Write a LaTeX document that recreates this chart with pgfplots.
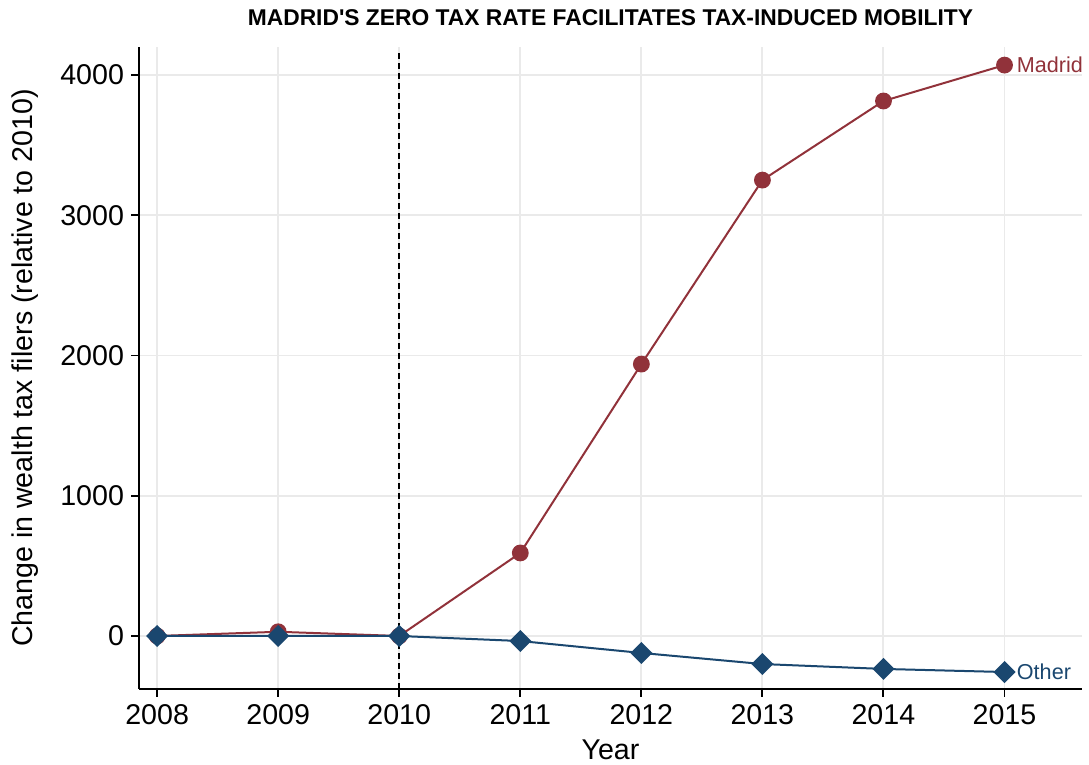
\documentclass[border=0pt]{standalone}
\usepackage{pgfplots}
\pgfplotsset{compat=1.18}
\usepackage{fontspec}
\setmainfont{Liberation Sans}
\definecolor{madrid}{RGB}{145,50,58}
\definecolor{other}{RGB}{26,71,111}
\definecolor{gridgray}{RGB}{234,234,234}

\begin{document}
\begin{tikzpicture}
  \path[use as bounding box] (-69.5pt,-38pt) rectangle (475pt,344.5pt);
  \begin{axis}[
    at={(0,0)}, anchor=south west,
    scale only axis,
    width=471.5pt, height=321pt,
    xmin=2007.85, xmax=2015.64,
    ymin=-378, ymax=4200,
    axis x line*=bottom, axis y line*=left,
    axis line style={line width=0.9pt, -},
    xtick={2008,...,2015},
    ytick={0,1000,2000,3000,4000},
    tick align=outside,
    major tick length=4pt,
    tick style={black, line width=0.9pt},
    grid=major,
    grid style={gridgray, line width=0.9pt},
    /pgf/number format/assume math mode=true,
    /pgf/number format/1000 sep={},
    ticklabel style={font=\fontsize{14.3}{16}\selectfont},
    xlabel={Year},
    ylabel={Change in wealth tax filers (relative to 2010)},
    label style={font=\fontsize{14.3}{16}\selectfont},
    xlabel style={yshift=-1pt},
    ylabel style={yshift=4pt},
    title={\textbf{MADRID\textquotesingle S ZERO TAX RATE FACILITATES TAX-INDUCED MOBILITY}},
    title style={font=\fontsize{11.4}{13}\selectfont, yshift=1pt},
  ]
    \addplot[black, line width=1pt, dash pattern=on 3pt off 2pt] coordinates {(2010,-378) (2010,4170)};
    \addplot[madrid, line width=1pt, mark=*, mark size=3.7pt] coordinates {
      (2008,0) (2009,30) (2010,0) (2011,592) (2012,1939) (2013,3251) (2014,3815) (2015,4071)
    };
    \addplot[other, line width=1pt, mark=square*, mark size=3.4pt, mark options={rotate=45}] coordinates {
      (2008,0) (2009,0) (2010,0) (2011,-36) (2012,-121) (2013,-200) (2014,-235) (2015,-257)
    };
    \node[anchor=west, text=madrid, font=\fontsize{10.8}{13}\selectfont, inner sep=0pt, xshift=6pt] at (axis cs:2015,4071) {Madrid};
    \node[anchor=west, text=other, font=\fontsize{10.8}{13}\selectfont, inner sep=0pt, xshift=6pt] at (axis cs:2015,-257) {Other};
  \end{axis}
\end{tikzpicture}
\end{document}
